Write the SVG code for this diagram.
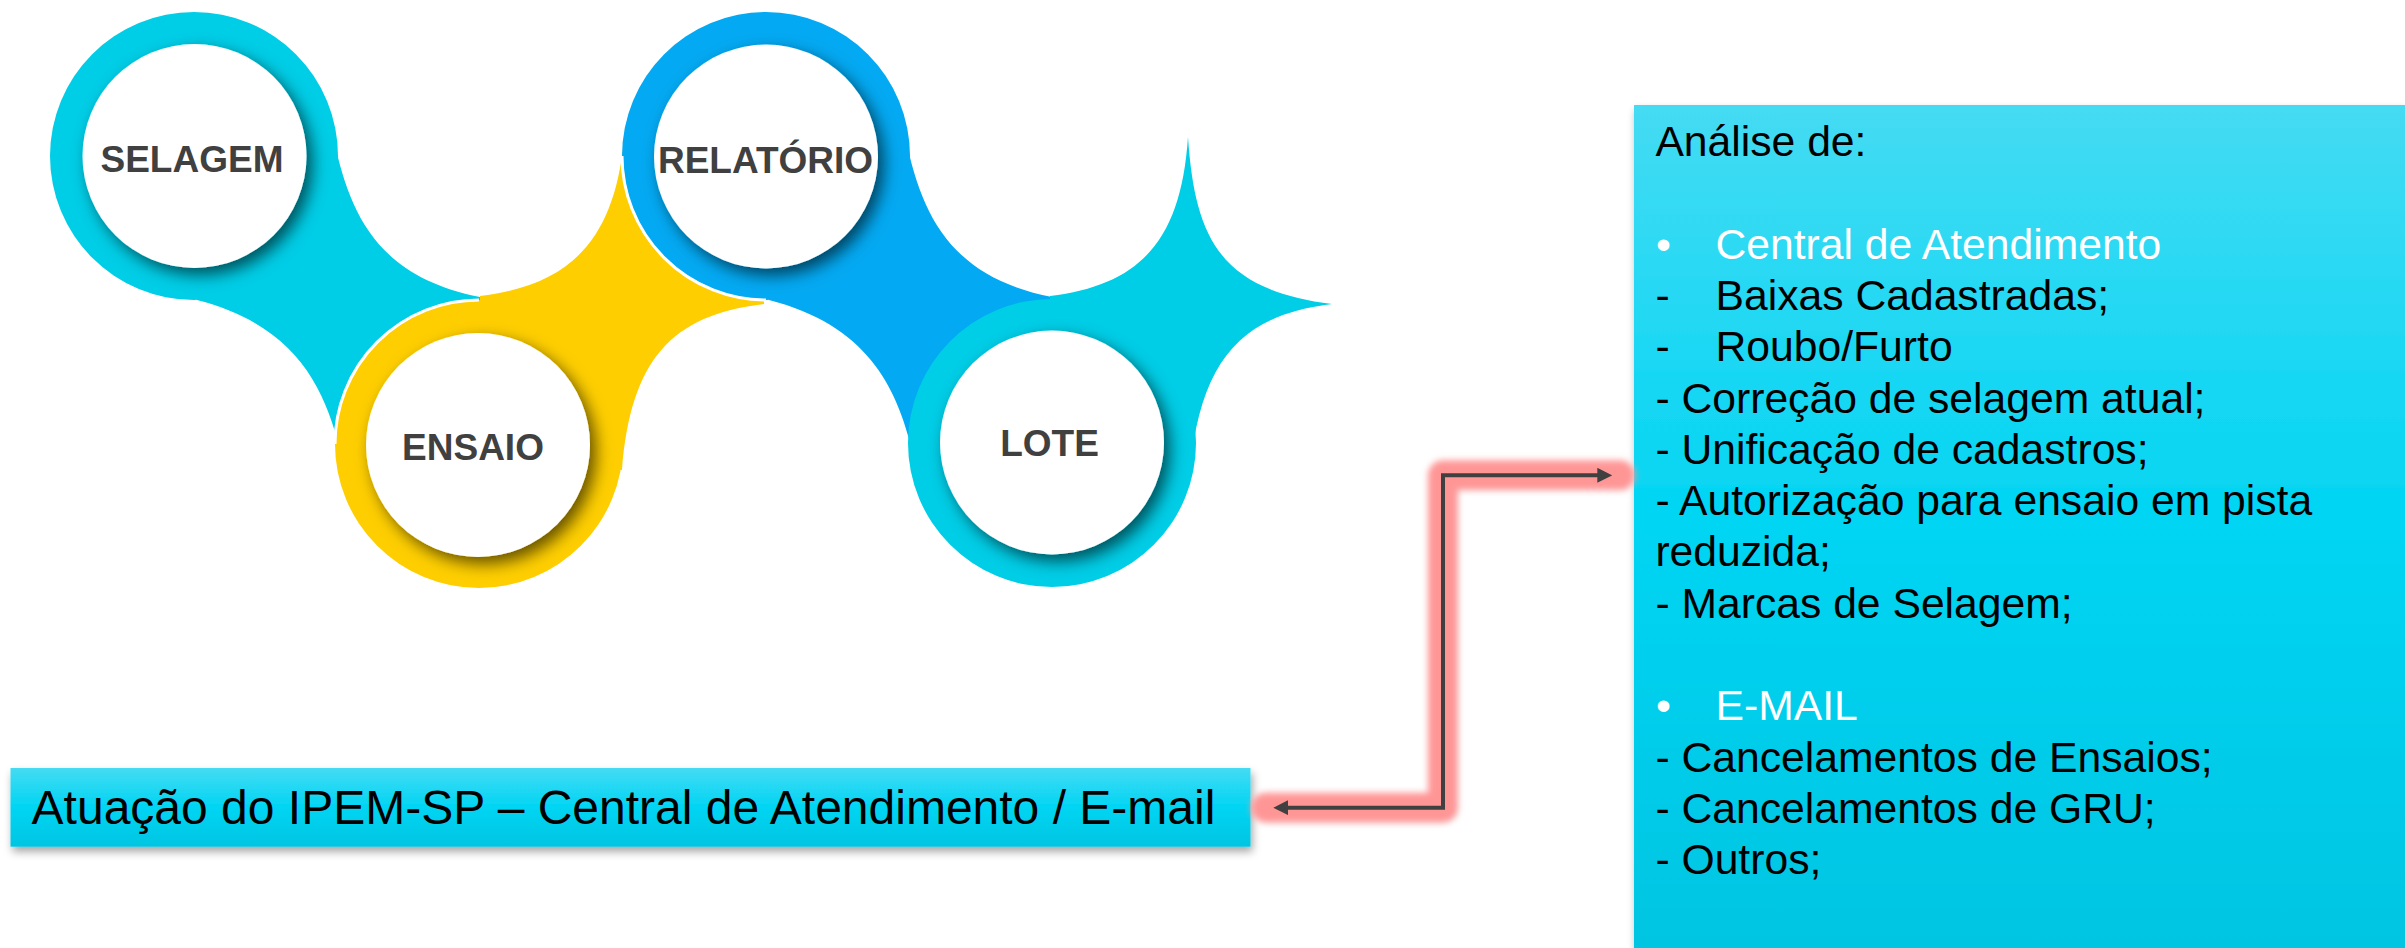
<svg xmlns="http://www.w3.org/2000/svg" width="2405" height="948" viewBox="0 0 2405 948">
<defs>
<style>
.cy{fill:#00CDE6}
.ye{fill:#FECE00}
.bl{fill:#03A9F2}
.inner{fill:#FFFFFF;filter:url(#innerSh)}
.lbl{font-family:"Liberation Sans",Arial,sans-serif;font-weight:bold;font-size:37px;fill:#404040;text-anchor:middle}
.sep{fill:none;stroke:#FFFFFF;stroke-width:3}
.tx{font-family:"Liberation Sans",Arial,sans-serif;font-size:42.67px;fill:#000000}
.wt{fill:#FFFFFF}
.big{font-family:"Liberation Sans",Arial,sans-serif;font-size:48px;fill:#000000}
</style>
<filter id="innerSh" x="-30%" y="-30%" width="160%" height="160%">
<feDropShadow dx="6" dy="7" stdDeviation="8" flood-color="#000000" flood-opacity="0.6"/>
</filter>
<filter id="boxSh" x="-5%" y="-20%" width="110%" height="150%">
<feDropShadow dx="2" dy="5" stdDeviation="4" flood-color="#000000" flood-opacity="0.35"/>
</filter>
<filter id="glow" filterUnits="userSpaceOnUse" x="1220" y="420" width="450" height="440">
<feGaussianBlur stdDeviation="3"/>
</filter>
<linearGradient id="boxGrad" x1="0" y1="0" x2="0" y2="1">
<stop offset="0" stop-color="#45DBF3"/>
<stop offset="0.5" stop-color="#00D5F3"/>
<stop offset="1" stop-color="#00C5E2"/>
</linearGradient>
<marker id="arr" viewBox="0 0 15 15" refX="1" refY="7.5" markerWidth="15" markerHeight="15" markerUnits="userSpaceOnUse" orient="auto-start-reverse">
<path d="M0,0 L15,7.5 L0,15 Z" fill="#404040"/>
</marker>
</defs>

<g id="node-selagem">
<path class="cy" d="M334,140 C350,215 378,277 480,297 L479,444 L340,450 C324,385 294,325 197,300 L194,156 Z"/>
<circle class="cy" cx="194" cy="156" r="144"/>
<circle class="inner" cx="194.5" cy="156" r="112"/>
<text class="lbl" x="192" y="172">SELAGEM</text>
</g>

<g id="node-ensaio">
<circle class="ye" cx="479" cy="444" r="144"/>
<path class="ye" d="M480,296 C571,285 614,240 624,140 L766,156 L764,304 C671,315 631,360 622,470 L479,444 Z"/>
<path class="sep" d="M335,444 A144,144 0 0 1 479,300"/>
<circle class="inner" cx="478" cy="445" r="112"/>
<text class="lbl" x="473" y="459.5">ENSAIO</text>
</g>

<g id="node-relatorio">
<circle class="bl" cx="766" cy="156" r="144"/>
<path class="bl" d="M906,140 C922,215 950,277 1052,297 L1052,443 L912,450 C896,385 866,325 769,300 L766,156 Z"/>
<path class="sep" d="M766,300 A144,144 0 0 1 622,156"/>
<circle class="inner" cx="766" cy="156.5" r="112"/>
<text class="lbl" x="765.5" y="173">RELATÓRIO</text>
</g>

<g id="node-lote">
<circle class="cy" cx="1052" cy="443" r="144"/>
<path class="cy" d="M1050,296 C1141,285 1181,240 1188,137 C1195,240 1221,290 1332,304 C1241,315 1201,360 1190,470 L1052,443 Z"/>
<circle class="inner" cx="1052" cy="442.5" r="112"/>
<text class="lbl" x="1049.5" y="456">LOTE</text>
</g>

<g id="node-atuacao">
<rect x="10.5" y="768" width="1240" height="78.7" fill="url(#boxGrad)" filter="url(#boxSh)"/>
<text class="big" x="31.6" y="824.3">Atuação do IPEM-SP – Central de Atendimento / E-mail</text>
</g>

<g id="node-analise">
<rect x="1634" y="105" width="771" height="843" fill="url(#boxGrad)" filter="url(#boxSh)"/>
<text class="tx" x="1655.4" y="156">Análise de:</text>
<text class="tx wt" x="1656" y="258.6">•</text>
<text class="tx wt" x="1715.5" y="258.6">Central de Atendimento</text>
<text class="tx" x="1655.4" y="309.9">-</text>
<text class="tx" x="1715.5" y="309.9">Baixas Cadastradas;</text>
<text class="tx" x="1655.4" y="361.2">-</text>
<text class="tx" x="1715.5" y="361.2">Roubo/Furto</text>
<text class="tx" x="1655.4" y="412.5">- Correção de selagem atual;</text>
<text class="tx" x="1655.4" y="463.8">- Unificação de cadastros;</text>
<text class="tx" x="1655.4" y="515.1">- Autorização para ensaio em pista</text>
<text class="tx" x="1655.4" y="566.4">reduzida;</text>
<text class="tx" x="1655.4" y="617.7">- Marcas de Selagem;</text>
<text class="tx wt" x="1656" y="720.3">•</text>
<text class="tx wt" x="1715.5" y="720.3">E-MAIL</text>
<text class="tx" x="1655.4" y="771.6">- Cancelamentos de Ensaios;</text>
<text class="tx" x="1655.4" y="822.9">- Cancelamentos de GRU;</text>
<text class="tx" x="1655.4" y="874.2">- Outros;</text>
</g>

<g id="connectors">
<path d="M1266,807.7 H1443 V475.3 H1620" fill="none" stroke="#FF9696" stroke-width="30" stroke-linecap="round" stroke-linejoin="round" filter="url(#glow)"/>
<path d="M1287.3,807.7 H1443 V475.3 H1598.3" fill="none" stroke="#404040" stroke-width="4" marker-start="url(#arr)" marker-end="url(#arr)"/>
</g>
</svg>
